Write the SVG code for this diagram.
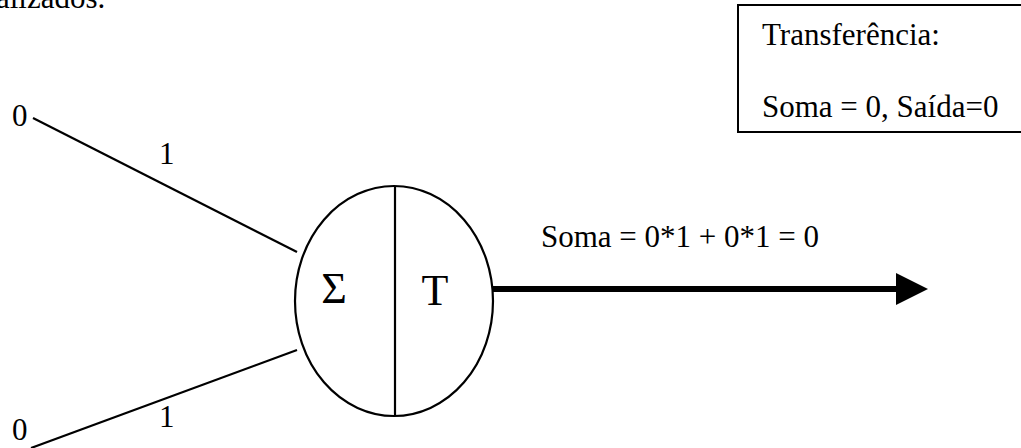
<svg xmlns="http://www.w3.org/2000/svg" width="1021" height="448" viewBox="0 0 1021 448">
<style>
text{font-family:"Liberation Serif","Times New Roman",serif;fill:#000;font-size:31px}
.big{font-size:44px}
.ln{stroke:#000;stroke-width:2.2;fill:none}
</style>
<rect width="1021" height="448" fill="#fff"/>
<text x="-4" y="8">alizados.</text>
<g id="box">
<rect x="738" y="5" width="300" height="127" fill="#fff" stroke="#000" stroke-width="2"/>
<text x="762" y="45">Transferência:</text>
<text x="762" y="117">Soma = 0, Saída=0</text>
</g>
<g id="input1">
<text x="12" y="126">0</text>
</g>
<g id="input2">
<text x="12" y="440">0</text>
</g>
<g id="neuron">
<ellipse cx="394" cy="301" rx="99" ry="115" class="ln"/>
<line x1="395" y1="186" x2="395" y2="416" class="ln"/>
<text class="big" x="334" y="303" text-anchor="middle">Σ</text>
<text class="big" x="435" y="305" text-anchor="middle">T</text>
</g>
<g id="connectors">
<line x1="33" y1="118" x2="297" y2="252" class="ln"/>
<text x="159" y="164">1</text>
<line x1="31" y1="448" x2="297" y2="350" class="ln"/>
<text x="159" y="427">1</text>
<line x1="493" y1="289" x2="898" y2="289" stroke="#000" stroke-width="6"/>
<polygon points="896,273 928,289 896,305" fill="#000"/>
<text x="541" y="247">Soma = 0*1 + 0*1 = 0</text>
</g>
</svg>
